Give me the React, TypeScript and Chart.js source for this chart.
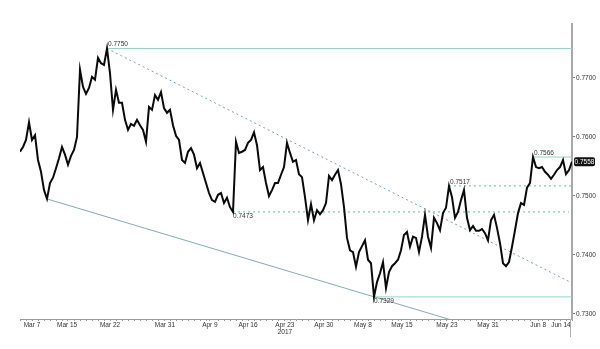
import { useEffect, useRef } from 'react';
import { Chart, registerables } from 'chart.js';

Chart.register(...registerables);

// AUD/USD-like price path, one value per step (trading time)
const prices = [
  0.7575, 0.7583, 0.7595, 0.7625, 0.7595, 0.7603, 0.7561, 0.7541, 0.7510, 0.7495,
  0.7522, 0.7531, 0.7547, 0.7564, 0.7583, 0.7570, 0.7553, 0.7568, 0.7578, 0.7600,
  0.7714, 0.7685, 0.7673, 0.7683, 0.7702, 0.7697, 0.7734, 0.7725, 0.7722, 0.7750,
  0.7708, 0.7646, 0.7680, 0.7658, 0.7658, 0.7629, 0.7612, 0.7622, 0.7619, 0.7629,
  0.7620, 0.7612, 0.7592, 0.7651, 0.7646, 0.7671, 0.7663, 0.7676, 0.7649, 0.7641,
  0.7646, 0.7620, 0.7602, 0.7595, 0.7561, 0.7556, 0.7575, 0.7581, 0.7570, 0.7547,
  0.7556, 0.7539, 0.7522, 0.7505, 0.7493, 0.7490, 0.7502, 0.7505, 0.7488, 0.7497,
  0.7481, 0.7473, 0.7592, 0.7573, 0.7575, 0.7578, 0.7590, 0.7595, 0.7608, 0.7586,
  0.7544, 0.7549, 0.7522, 0.7500, 0.7510, 0.7522, 0.7522, 0.7536, 0.7549, 0.7590,
  0.7573, 0.7558, 0.7561, 0.7537, 0.7532, 0.7498, 0.7459, 0.7486, 0.7459, 0.7476,
  0.7469, 0.7476, 0.7488, 0.7534, 0.7527, 0.7536, 0.7544, 0.7520, 0.7481, 0.7429,
  0.7408, 0.7405, 0.7380, 0.7405, 0.7415, 0.7425, 0.7392, 0.7386, 0.7329, 0.7354,
  0.7369, 0.7388, 0.7344, 0.7371, 0.7381, 0.7386, 0.7392, 0.7408, 0.7434, 0.7439,
  0.7414, 0.7431, 0.7429, 0.7405, 0.7431, 0.7468, 0.7431, 0.7412, 0.7463, 0.7454,
  0.7442, 0.7471, 0.7480, 0.7517, 0.7498, 0.7463, 0.7473, 0.7493, 0.7510, 0.7463,
  0.7442, 0.7449, 0.7441, 0.7441, 0.7444, 0.7437, 0.7425, 0.7459, 0.7468, 0.7446,
  0.7420, 0.7386, 0.7381, 0.7388, 0.7414, 0.7442, 0.7471, 0.7488, 0.7485, 0.7514,
  0.7522, 0.7566, 0.7549, 0.7547, 0.7549, 0.7541, 0.7536, 0.7529, 0.7536, 0.7544,
  0.7549, 0.7561, 0.7537, 0.7544, 0.7558,
];

// date tick positions (step index) and labels
const dateTickIdx = [4, 15.7, 30, 48.3, 63.3, 76, 88.3, 101.3, 114.3, 127.3, 142.3, 156, 172.7, 180.3];
const dateTickLabels = ['Mar 7', 'Mar 15', 'Mar 22', 'Mar 31', 'Apr 9', 'Apr 16', 'Apr 23', 'Apr 30', 'May 8', 'May 15', 'May 23', 'May 31', 'Jun 8', 'Jun 14'];
const yearLabel = '2017';
const yearLabelIdx = 88.3;

const priceTicks = [0.73, 0.74, 0.75, 0.76, 0.77];
const priceMin = 0.72915;
const priceMax = 0.77915;

// technical lines: [stepIndex, price] pairs
const level7750 = [[29, 0.775], [184, 0.775]];
const trendUpper = [[29, 0.775], [184, 0.73525]];
const trendLower = [[9, 0.7495], [145, 0.7288]];
const level7566 = [[171, 0.7566], [184, 0.7566]];
const level7517 = [[143, 0.7517], [184, 0.7517]];
const level7473 = [[71, 0.7473], [183, 0.7473]];
const level7329 = [[118, 0.7329], [184, 0.7329]];

// marked swing points
const markIdx = [29, 71, 118, 143, 171];
const markPrice = [0.775, 0.7473, 0.7329, 0.7517, 0.7566];
const markBelow = [false, true, true, false, false];

const FONT = '"Liberation Sans", Arial, sans-serif';

const toPts = (arr: number[][]) => arr.map(([x, y]) => ({ x, y }));

export default function App() {
  const ref = useRef<HTMLCanvasElement | null>(null);

  useEffect(() => {
    document.body.style.margin = '0';
    const canvas = ref.current;
    if (!canvas) return;

    const overlay = {
      id: 'overlay',
      afterDatasetsDraw(chart: any) {
        const { ctx } = chart;
        const xs = chart.scales.x;
        const ys = chart.scales.y;
        ctx.save();
        ctx.font = `6.5px ${FONT}`;
        ctx.fillStyle = '#333';
        ctx.textAlign = 'left';
        markIdx.forEach((m, k) => {
          const px = xs.getPixelForValue(m);
          const py = ys.getPixelForValue(markPrice[k]);
          const t = markPrice[k].toFixed(4);
          if (markBelow[k]) {
            ctx.textBaseline = 'top';
            ctx.fillText(t, px, py + 1);
          } else {
            ctx.textBaseline = 'bottom';
            ctx.fillText(t, px + 1, py - 1);
          }
        });
        ctx.restore();
      },
      afterDraw(chart: any) {
        const { ctx, chartArea } = chart;
        const ys = chart.scales.y;
        const last = prices[prices.length - 1];
        const py = ys.getPixelForValue(last);
        ctx.save();
        // axis extension below the x axis
        ctx.strokeStyle = '#b0b0b0';
        ctx.lineWidth = 1;
        ctx.beginPath();
        ctx.moveTo(chartArea.right - 1.5, chartArea.bottom);
        ctx.lineTo(chartArea.right - 1.5, chartArea.bottom + 18);
        ctx.stroke();
        // last price box
        const bx = chartArea.right + 2;
        const bw = 21;
        const bh = 9;
        ctx.fillStyle = '#111';
        ctx.beginPath();
        if ((ctx as any).roundRect) (ctx as any).roundRect(bx, py - bh / 2, bw, bh, 2);
        else ctx.rect(bx, py - bh / 2, bw, bh);
        ctx.fill();
        ctx.fillStyle = '#fff';
        ctx.font = `6.5px ${FONT}`;
        ctx.textAlign = 'center';
        ctx.textBaseline = 'middle';
        ctx.fillText(last.toFixed(4), bx + bw / 2, py + 0.5);
        ctx.restore();
      },
    };

    const green = '#93d6bf';
    const greenDot = '#7fcfb2';

    const lineDs = (data: number[][], color: string, dash: number[], width = 1) => ({
      type: 'line' as const,
      data: toPts(data),
      borderColor: color,
      borderWidth: width,
      borderDash: dash,
      pointRadius: 0,
      fill: false,
      tension: 0,
    });

    const chart = new Chart(canvas, {
      type: 'line',
      data: {
        datasets: [
          {
            data: prices.map((p, i) => ({ x: i, y: p })),
            borderColor: '#0a0a0a',
            borderWidth: 2,
            borderJoinStyle: 'miter',
            pointRadius: 0,
            fill: false,
            tension: 0,
          },
          lineDs(level7750, green, []),
          lineDs(trendUpper, '#7d9fad', [2, 3]),
          lineDs(trendLower, '#86aab0', []),
          lineDs(level7566, green, []),
          lineDs(level7517, greenDot, [2, 3], 1.3),
          lineDs(level7473, greenDot, [2, 3], 1.3),
          lineDs(level7329, green, []),
        ] as any,
      },
      options: {
        animation: false,
        responsive: false,
        devicePixelRatio: 1,
        layout: { padding: { left: 20, top: 24, right: 0, bottom: 0 } },
        plugins: { legend: { display: false }, tooltip: { enabled: false } },
        scales: {
          x: {
            type: 'linear',
            min: 0,
            max: prices.length - 1,
            afterBuildTicks: (scale: any) => {
              const minor: number[] = [];
              for (let v = 0; v <= prices.length - 1; v += 2) {
                if (dateTickIdx.every((d) => Math.abs(d - v) > 0.9)) minor.push(v);
              }
              const all = [...minor, ...dateTickIdx].sort((a, b) => a - b);
              scale.ticks = all.map((v) => ({ value: v }));
            },
            afterFit: (scale: any) => {
              scale.height = 30;
            },
            ticks: {
              autoSkip: false,
              maxRotation: 0,
              minRotation: 0,
              padding: 0,
              color: '#333',
              font: { family: FONT, size: 6.5 },
              callback: (value: any) => {
                const j = dateTickIdx.indexOf(Number(value));
                if (j < 0) return '';
                if (dateTickIdx[j] === yearLabelIdx) return [dateTickLabels[j], yearLabel];
                return dateTickLabels[j];
              },
            },
            grid: {
              display: true,
              drawOnChartArea: false,
              drawTicks: true,
              tickLength: 2,
              color: '#9a9a9a',
            },
            border: { display: true, color: '#9a9a9a', width: 1 },
          },
          y: {
            type: 'linear',
            position: 'right',
            min: priceMin,
            max: priceMax,
            afterBuildTicks: (scale: any) => {
              scale.ticks = priceTicks.map((v) => ({ value: v }));
            },
            afterFit: (scale: any) => {
              scale.width = 28;
            },
            ticks: {
              padding: 1,
              color: '#333',
              font: { family: FONT, size: 6.5 },
              callback: (value: any) => Number(value).toFixed(4),
            },
            grid: {
              display: true,
              drawOnChartArea: false,
              drawTicks: true,
              tickLength: 3,
              color: '#777',
            },
            border: { display: true, color: '#a8a8a8', width: 2 },
          },
        },
      },
      plugins: [overlay],
    } as any);

    return () => chart.destroy();
  }, []);

  return (
    <div style={{ width: 600, height: 349, background: '#fff' }}>
      <canvas ref={ref} width={600} height={349} style={{ display: 'block' }} />
    </div>
  );
}
